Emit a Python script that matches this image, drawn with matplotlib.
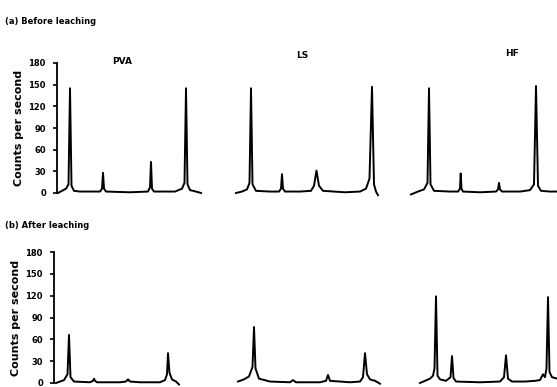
import matplotlib
matplotlib.use("Agg")
import matplotlib.pyplot as plt

W, H = 557, 387
yticks = [0, 30, 60, 90, 120, 150, 180]

# (a) Before leaching traces (scan position, counts per second)
pva_a_x = [58, 62, 66, 68.5, 70, 71.5, 74, 80, 100, 102, 103, 104, 106, 130, 148, 150, 151, 152, 154, 175, 182, 184.5, 186, 187.5, 190, 196, 201]
pva_a_y = [0, 3, 6, 12, 145, 10, 3, 2, 2, 6, 28, 6, 2, 1, 2, 8, 43, 6, 2, 2, 6, 14, 145, 12, 4, 2, 0]
ls_a_x = [236, 242, 247, 249.5, 251, 252.5, 256, 270, 279, 281, 282, 283, 285, 300, 311, 314, 316.5, 319, 323, 345, 360, 366, 369.5, 372, 374, 376, 378]
ls_a_y = [0, 2, 5, 14, 145, 12, 3, 2, 2, 6, 26, 6, 2, 2, 3, 10, 31, 10, 3, 1, 2, 6, 20, 147, 12, 2, -3]
hf_a_x = [411, 418, 424, 427.5, 429, 430.5, 434, 450, 458, 460, 460.7, 461.5, 463, 480, 496, 498, 499, 500, 502, 520, 530, 534, 536, 538, 541, 550, 557]
hf_a_y = [-2, 2, 5, 14, 145, 12, 3, 2, 2, 6, 27, 6, 2, 1, 2, 5, 14, 5, 2, 2, 4, 12, 148, 10, 3, 2, 2]

# (b) After leaching traces
pva_b_x = [56, 60, 64, 67.5, 69, 70.5, 74, 90, 93, 94, 95, 97, 120, 126, 128, 130, 140, 160, 165, 167, 168, 169.5, 172, 176, 179]
pva_b_y = [0, 2, 4, 12, 66, 8, 2, 1, 3, 6, 3, 1, 1, 2, 5, 2, 1, 1, 4, 12, 41, 14, 5, 2, -2]
ls_b_x = [238, 244, 249, 252.5, 254, 255.5, 259, 270, 290, 293, 296, 320, 326, 328, 330, 350, 360, 363, 365, 367, 370, 375, 380]
ls_b_y = [2, 5, 9, 22, 77, 20, 6, 2, 1, 4, 1, 1, 3, 11, 3, 1, 2, 8, 41, 12, 5, 3, -1]
hf_b_x = [420, 425, 430, 433, 434.5, 436, 437.5, 440, 446, 450.5, 452, 453.5, 456, 480, 500, 504, 506, 508, 512, 525, 535, 540, 543, 545, 546.5, 548, 549.5, 552, 557]
hf_b_y = [0, 3, 6, 10, 20, 119, 10, 5, 3, 8, 37, 7, 2, 1, 2, 8, 38, 6, 2, 2, 3, 4, 12, 8, 20, 118, 15, 8, 6]

panel_titles = ["PVA", "LS", "HF"]
row_labels = ["(a) Before leaching", "(b) After leaching"]

fig = plt.figure(figsize=(W / 100, H / 100), dpi=100)

def make_axes(left_px, bottom_px, top_px):
    ax = fig.add_axes([left_px / W, (H - bottom_px) / H, 1 - left_px / W, (bottom_px - top_px) / H])
    ax.set_xlim(left_px, W)
    ax.set_ylim(0, 180)
    for s in ["top", "right", "bottom"]:
        ax.spines[s].set_visible(False)
    ax.spines["left"].set_linewidth(1.3)
    ax.set_xticks([])
    ax.set_yticks(yticks)
    ax.tick_params(axis="y", length=3, width=1.2, pad=5, labelsize=6)
    for t in ax.get_yticklabels():
        t.set_fontweight("bold")
    ax.set_facecolor("none")
    return ax

ax1 = make_axes(57, 193, 63)
for x, y in [(pva_a_x, pva_a_y), (ls_a_x, ls_a_y), (hf_a_x, hf_a_y)]:
    ax1.plot(x, y, color="black", lw=1.4, clip_on=False, solid_joinstyle="round")
ax2 = make_axes(54, 383, 252)
for x, y in [(pva_b_x, pva_b_y), (ls_b_x, ls_b_y), (hf_b_x, hf_b_y)]:
    ax2.plot(x, y, color="black", lw=1.4, clip_on=False, solid_joinstyle="round")

for ax in (ax1, ax2):
    ax.set_ylabel("Counts per second", fontsize=8, fontweight="bold", labelpad=3)

fig.text(5 / W, 1 - 22 / H, row_labels[0], fontsize=6, fontweight="bold", va="center", ha="left")
fig.text(5 / W, 1 - 225 / H, row_labels[1], fontsize=6, fontweight="bold", va="center", ha="left")
for name, (px, py) in zip(panel_titles, [(122, 61), (302, 55), (512, 54)]):
    fig.text(px / W, 1 - py / H, name, fontsize=6.5, fontweight="bold", ha="center", va="center")

fig.savefig("out.png", dpi=100)
